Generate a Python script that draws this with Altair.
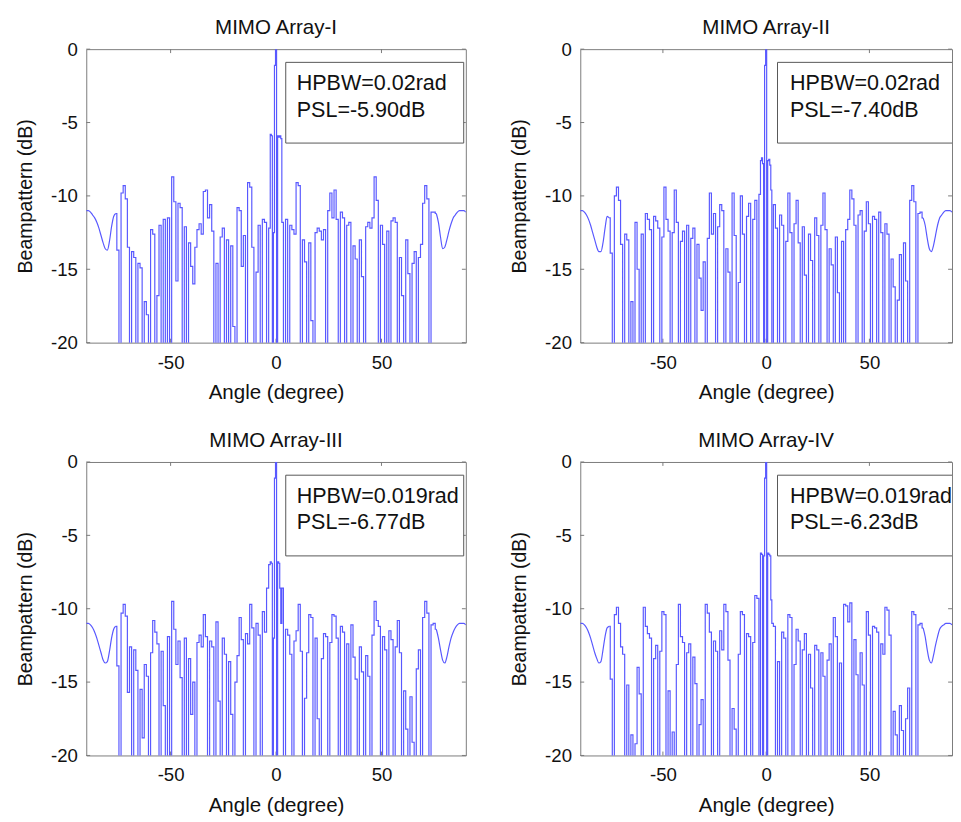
import altair as alt
import pandas as pd

# ---------------- data (dB values) ----------------
titles = ["MIMO Array-I", "MIMO Array-II", "MIMO Array-III", "MIMO Array-IV"]
notes = [["HPBW=0.02rad", "PSL=-5.90dB"],
         ["HPBW=0.02rad", "PSL=-7.40dB"],
         ["HPBW=0.019rad", "PSL=-6.77dB"],
         ["HPBW=0.019rad", "PSL=-6.23dB"]]

x_ticks = [-50, 0, 50]
y_ticks = [0, -5, -10, -15, -20]

# angles of the smooth end pieces and of the central refined part
edge_left_angles = list(range(-90, -75))
edge_right_angles = list(range(76, 91))
core_left_angles = list(range(-76, -2))
center_angles = [-2.5, -2, -1.5, -1, -0.5, 0, 0.5, 1, 1.5, 2, 2.5]
core_right_angles = list(range(3, 77))

# Panel I
p1_edge_l = [-11.0, -11.0, -11.1, -11.3, -11.5, -11.8, -12.2, -12.7, -13.2, -13.6, -13.7, -13.1, -12.1, -11.4, -11.2]
p1_core_l = [-11.2, -13.7, -25, -9.8, -9.3, -10.2, -13.5, -25, -13.8, -14.2,
             -25, -14.6, -14.9, -25, -17.2, -18.1, -25, -12.3, -12.6, -25,
             -16.8, -12.0, -25, -11.6, -25, -11.5, -25, -8.7, -10.4, -15.8,
             -10.5, -10.8, -25, -12.1, -25, -13.2, -14.8, -16.0, -13.5, -12.3,
             -11.9, -12.6, -9.7, -9.6, -11.5, -10.6, -12.4, -25, -14.6, -25,
             -12.8, -12.2, -25, -13.0, -25, -13.4, -18.9, -25, -10.8, -11.0,
             -14.8, -12.7, -25, -9.1, -9.4, -13.5, -25, -15.2, -12.0, -25,
             -11.6, -11.8, -25, -12.2]
p1_center = [-5.8, -5.9, -25, -12.5, -1.1, 0.0, -25, -5.9, -6.0, -5.9, -6.1]
p1_core_r = [-11.8, -25, -11.6, -25, -12.0, -12.3, -12.6, -9.1, -9.3, -25,
             -13.0, -14.5, -25, -13.2, -18.5, -25, -12.5, -12.2, -12.4, -13.0,
             -12.3, -25, -11.0, -9.8, -11.5, -9.6, -11.6, -25, -11.1, -11.5,
             -25, -12.0, -11.8, -25, -13.4, -14.3, -25, -13.0, -15.5, -25,
             -12.1, -11.8, -12.2, -11.5, -8.7, -10.3, -25, -12.0, -13.3, -25,
             -12.4, -25, -11.7, -11.5, -11.8, -25, -14.2, -16.8, -25, -13.0,
             -15.3, -25, -14.6, -13.8, -25, -14.2, -13.3, -10.5, -9.3, -10.2,
             -25, -11.1, -11.1, -11.2]
p1_edge_r = [-11.2, -11.8, -12.8, -13.6, -13.5, -13.0, -12.4, -11.9, -11.5, -11.3, -11.1, -11.0, -11.0, -11.0, -11.1]

# Panel II
p2_edge_l = [-11.0, -11.0, -11.1, -11.3, -11.6, -12.0, -12.5, -13.0, -13.5, -13.8, -13.8, -13.2, -12.2, -11.4, -11.5]
p2_core_l = [-11.5, -13.9, -25, -10.0, -9.4, -10.3, -13.3, -25, -12.6, -13.0,
             -25, -17.2, -25, -11.8, -15.0, -25, -12.6, -25, -11.2, -11.6,
             -12.3, -25, -11.4, -11.7, -12.2, -25, -12.8, -9.4, -11.6, -12.4,
             -25, -12.5, -9.6, -11.8, -25, -13.1, -12.4, -25, -12.0, -25,
             -12.9, -12.2, -25, -13.3, -15.6, -17.8, -14.5, -25, -12.9, -9.8,
             -12.6, -11.2, -25, -12.1, -10.6, -11.0, -25, -13.6, -15.2, -25,
             -9.8, -12.7, -25, -15.9, -10.0, -12.6, -25, -11.4, -10.5, -25,
             -11.6, -10.3, -25, -9.9]
p2_center = [-7.6, -7.4, -7.8, -25, -1.1, 0.0, -25, -7.6, -7.5, -7.9, -9.6]
p2_core_r = [-25, -10.6, -12.2, -25, -11.3, -12.0, -25, -13.1, -9.8, -12.5,
             -25, -11.9, -10.3, -13.2, -25, -12.1, -15.4, -25, -12.6, -14.4,
             -25, -11.5, -12.7, -25, -12.0, -9.8, -12.3, -25, -13.6, -14.7,
             -25, -12.8, -16.6, -25, -13.1, -25, -12.3, -11.6, -9.6, -10.2,
             -12.0, -25, -11.3, -11.0, -25, -12.4, -10.4, -11.9, -25, -11.4,
             -11.6, -25, -11.1, -12.5, -25, -11.9, -12.6, -25, -14.3, -16.2,
             -25, -17.1, -14.0, -25, -13.2, -15.8, -25, -10.3, -9.3, -10.4,
             -25, -11.2, -11.1, -11.5]
p2_edge_r = [-11.5, -12.0, -12.9, -13.6, -13.8, -13.4, -12.7, -12.0, -11.5, -11.3, -11.1, -11.0, -11.0, -11.0, -11.1]

# Panel III
p3_edge_l = [-11.0, -11.0, -11.1, -11.3, -11.6, -12.0, -12.5, -13.0, -13.5, -13.7, -13.6, -12.9, -12.0, -11.4, -11.2]
p3_core_l = [-11.2, -13.9, -25, -10.3, -9.7, -10.5, -15.7, -12.6, -25, -12.8,
             -14.2, -25, -15.5, -18.8, -13.8, -14.6, -25, -13.0, -10.8, -11.6,
             -12.4, -25, -12.9, -16.6, -25, -11.9, -25, -9.5, -11.4, -13.8,
             -12.2, -14.7, -25, -12.0, -25, -13.4, -17.2, -15.0, -25, -12.3,
             -11.8, -12.6, -10.4, -11.9, -25, -12.2, -12.6, -25, -10.9, -16.3,
             -25, -12.0, -13.1, -25, -13.6, -17.2, -25, -15.0, -13.2, -10.6,
             -12.1, -25, -11.7, -12.4, -9.7, -11.3, -25, -11.0, -11.8, -25,
             -10.2, -11.6, -8.6, -7.0]
p3_center = [-6.8, -6.9, -25, -12.0, -1.1, 0.0, -25, -6.8, -6.9, -8.6, -11.0]
p3_core_r = [-8.6, -25, -11.4, -11.8, -13.1, -25, -12.2, -11.5, -9.7, -12.9,
             -25, -16.1, -13.0, -10.4, -10.6, -25, -12.0, -17.5, -25, -13.4,
             -11.7, -11.9, -25, -12.3, -10.4, -10.5, -12.0, -25, -11.2, -11.6,
             -25, -12.4, -25, -11.1, -13.3, -14.8, -25, -12.6, -14.3, -25,
             -13.2, -14.6, -25, -11.8, -9.5, -10.8, -11.2, -25, -11.9, -12.8,
             -25, -11.5, -12.1, -25, -12.6, -10.8, -13.0, -25, -15.6, -18.2,
             -25, -16.0, -19.1, -25, -14.1, -12.8, -25, -10.6, -9.5, -10.3,
             -25, -11.1, -11.0, -11.4]
p3_edge_r = [-11.4, -12.0, -12.8, -13.5, -13.7, -13.3, -12.6, -12.0, -11.6, -11.3, -11.1, -11.0, -11.0, -11.0, -11.1]

# Panel IV
p4_edge_l = [-11.0, -11.0, -11.1, -11.3, -11.6, -12.0, -12.5, -13.0, -13.4, -13.7, -13.6, -12.8, -11.9, -11.3, -11.2]
p4_core_l = [-11.2, -14.8, -25, -10.4, -9.9, -11.0, -12.6, -13.1, -25, -15.2,
             -25, -18.6, -25, -19.2, -14.0, -15.8, -25, -9.9, -11.2, -11.7,
             -12.0, -25, -13.4, -12.5, -25, -12.9, -10.2, -10.4, -25, -15.6,
             -25, -18.4, -25, -13.8, -9.7, -11.9, -12.3, -25, -13.0, -12.4,
             -25, -13.3, -15.1, -25, -17.9, -16.2, -25, -9.7, -10.3, -11.6,
             -25, -12.2, -12.9, -25, -11.5, -12.8, -9.7, -10.2, -13.5, -25,
             -16.8, -18.2, -25, -13.1, -10.2, -10.4, -25, -11.7, -11.9, -25,
             -12.3, -9.1, -9.3, -25]
p4_center = [-6.2, -6.3, -25, -6.4, -1.1, 0.0, -25, -6.2, -6.3, -6.4, -9.4]
p4_core_r = [-11.0, -11.2, -25, -13.6, -25, -11.6, -12.0, -25, -10.4, -10.6,
             -25, -13.8, -11.4, -12.2, -25, -12.8, -11.7, -25, -13.1, -15.4,
             -25, -12.5, -12.8, -25, -13.0, -14.6, -25, -13.5, -12.4, -25,
             -10.6, -11.9, -25, -13.7, -25, -9.7, -9.8, -10.9, -9.6, -25,
             -12.1, -14.5, -25, -13.0, -15.2, -25, -10.2, -11.8, -25, -11.2,
             -11.3, -11.6, -25, -12.4, -13.1, -9.9, -10.1, -11.8, -25, -17.0,
             -18.6, -25, -16.6, -18.3, -25, -17.5, -15.4, -25, -10.2, -10.4,
             -25, -11.1, -11.0, -11.3]
p4_edge_r = [-11.3, -11.9, -12.8, -13.5, -13.7, -13.2, -12.5, -11.9, -11.4, -11.2, -11.1, -11.0, -11.0, -11.0, -11.1]

panels = [
    (p1_edge_l, p1_core_l, p1_center, p1_core_r, p1_edge_r),
    (p2_edge_l, p2_core_l, p2_center, p2_core_r, p2_edge_r),
    (p3_edge_l, p3_core_l, p3_center, p3_core_r, p3_edge_r),
    (p4_edge_l, p4_core_l, p4_center, p4_core_r, p4_edge_r),
]

# ---------------- chart ----------------
FONT = "Liberation Sans"
LINE = "#5858ff"
FRAME = "#7a7a7a"
H = 300


def panel(i, width, box_x1, box_x2, text_x):
    edge_l, core_l, center, core_r, edge_r = panels[i]
    assert len(edge_l) == len(edge_left_angles)
    assert len(edge_r) == len(edge_right_angles)
    assert len(core_l) == len(core_left_angles), (i, len(core_l))
    assert len(core_r) == len(core_right_angles), (i, len(core_r))
    assert len(center) == len(center_angles)

    edges = pd.DataFrame({
        "angle": edge_left_angles + edge_right_angles,
        "db": edge_l + edge_r,
        "side": ["L"] * len(edge_l) + ["R"] * len(edge_r),
    })
    core = pd.DataFrame({
        "angle": core_left_angles + center_angles + core_right_angles,
        "db": core_l + center + core_r,
    })

    xs = alt.Scale(domain=[-90, 90], nice=False, zero=False)
    ys = alt.Scale(domain=[-20, 0], nice=False, zero=False)
    xaxis = alt.Axis(values=x_ticks, title="Angle (degree)", labelExpr="'' + datum.value")
    yaxis = alt.Axis(values=y_ticks, title="Beampattern (dB)", labelExpr="'' + datum.value")

    def X(f):
        return alt.X(f, type="quantitative", scale=xs, axis=xaxis)

    def Y(f):
        return alt.Y(f, type="quantitative", scale=ys, axis=yaxis)

    edge_layer = alt.Chart(edges).mark_line(
        color=LINE, strokeWidth=1.2, clip=True, interpolate="monotone"
    ).encode(x=X("angle"), y=Y("db"), detail="side:N")

    core_layer = alt.Chart(core).mark_line(
        color=LINE, strokeWidth=1.2, clip=True, interpolate="step"
    ).encode(x=X("angle"), y=Y("db"))

    one = pd.DataFrame({"k": [0]})
    box = alt.Chart(one).mark_rect(
        fill="white", stroke="#555555", strokeWidth=1, clip=True
    ).encode(
        x=alt.XDatum(box_x1, scale=xs, axis=xaxis),
        x2=alt.X2Datum(box_x2),
        y=alt.YDatum(-0.9, scale=ys, axis=yaxis),
        y2=alt.Y2Datum(-6.4),
    )
    txt = alt.Chart(one).mark_text(
        text=notes[i], align="left", baseline="alphabetic", font=FONT,
        fontSize=22, lineHeight=27, color="#111111"
    ).encode(
        x=alt.XDatum(text_x, scale=xs, axis=xaxis),
        y=alt.YDatum(-2.8, scale=ys, axis=yaxis),
    )
    head = alt.Chart(one).mark_text(
        text=titles[i], align="center", baseline="alphabetic", font=FONT,
        fontSize=21, color="#111111"
    ).encode(x=alt.value(width / 2), y=alt.value(-15))

    xt = pd.DataFrame({"angle": x_ticks})
    yt = pd.DataFrame({"db": y_ticks})
    tick_bot = alt.Chart(xt).mark_rule(color=FRAME).encode(
        x=X("angle"), y=alt.value(H), y2=alt.value(H - 4))
    tick_top = alt.Chart(xt).mark_rule(color=FRAME).encode(
        x=X("angle"), y=alt.value(0), y2=alt.value(4))
    tick_l = alt.Chart(yt).mark_rule(color=FRAME).encode(
        y=Y("db"), x=alt.value(0), x2=alt.value(4))
    tick_r = alt.Chart(yt).mark_rule(color=FRAME).encode(
        y=Y("db"), x=alt.value(width), x2=alt.value(width - 4))

    return alt.layer(
        tick_bot, tick_top, tick_l, tick_r, edge_layer, core_layer, box, txt, head
    ).properties(width=width, height=H)


left_w = 388
right_w = 380

top = alt.hconcat(panel(0, left_w, 4.6, 89, 9.8), panel(1, right_w, 5.5, 96, 11.5), spacing=43)
bottom = alt.hconcat(panel(2, left_w, 4.6, 89, 9.8), panel(3, right_w, 5.5, 96, 11.5), spacing=43)

chart = alt.vconcat(top, bottom, spacing=27).properties(
    padding={"left": 7, "top": 0, "right": 0, "bottom": 0}
).configure(
    background="white",
).configure_view(
    stroke=FRAME, strokeWidth=1
).configure_axis(
    domain=False, ticks=False, grid=False,
    labelFont=FONT, labelFontSize=19, labelColor="#111111", labelPadding=9,
    titleFont=FONT, titleFontSize=20, titleFontWeight="normal", titleColor="#111111",
).configure_axisX(
    titlePadding=10, labelPadding=11, titleFontSize=21
).configure_axisY(titlePadding=16)

chart.save("out.html", embed_options={"renderer": "svg", "actions": False})
